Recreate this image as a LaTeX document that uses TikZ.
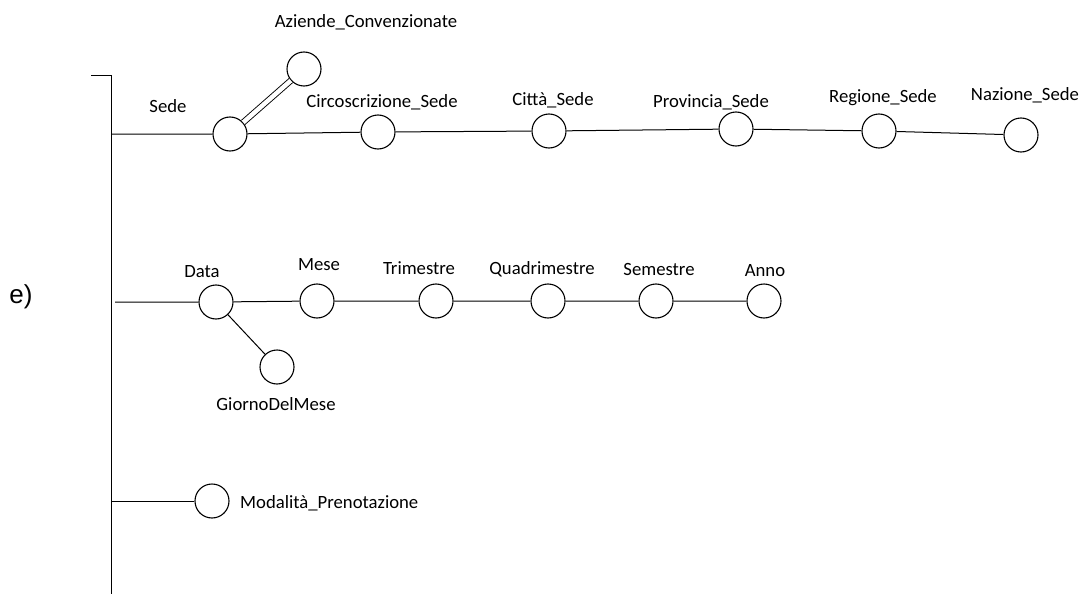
\documentclass[tikz,border=0pt]{standalone}
\usepackage{fontspec}
\setmainfont{Carlito}
\newfontfamily\labelfont{Liberation Sans}
\begin{document}
\begin{tikzpicture}[x=1pt,y=-1pt,
  attr/.style={circle,draw,line width=1.1pt,minimum size=34pt,inner sep=0pt},
  lbl/.style={font=\fontsize{18.7}{21}\selectfont,inner sep=0pt},
  edge/.style={line width=1pt}]
\useasboundingbox (0,0) rectangle (1085,594);

% main axis with its top tick
\coordinate (top) at (111,76);
\coordinate (topL) at (91,76);
\coordinate (bot) at (111,594);
\draw[edge] (topL) -- (top) -- (bot);
\node[font=\fontsize{26}{30}\labelfont,inner sep=0pt] (elbl) at (21,297) {e)};

% location hierarchy
\coordinate (r1) at (111,134);
\node[attr] (sede) at (230,134) {};
\node[attr] (aziende) at (304,69) {};
\node[attr] (circ) at (378,132) {};
\node[attr] (citta) at (549,131) {};
\node[attr] (prov) at (736,129) {};
\node[attr] (reg) at (879,131) {};
\node[attr] (naz) at (1021,135) {};
\node[lbl] (lsede) at (168,106) {Sede};
\node[lbl] (laz) at (366,22) {Aziende\_Convenzionate};
\node[lbl] (lcirc) at (382,102) {Circoscrizione\_Sede};
\node[lbl] (lcitta) at (553,100) {Città\_Sede};
\node[lbl] (lprov) at (711,102) {Provincia\_Sede};
\node[lbl] (lreg) at (883,98) {Regione\_Sede};
\node[lbl] (lnaz) at (1025,95) {Nazione\_Sede};
\draw[edge] (r1) -- (sede) -- (circ) -- (citta) -- (prov) -- (reg) -- (naz);
\draw[line width=0.9pt,double,double distance=4.5pt] (sede) -- (aziende);

% time hierarchy
\coordinate (r2) at (115,302);
\node[attr] (data) at (216,302) {};
\node[attr] (mese) at (317,301) {};
\node[attr] (trim) at (436,301) {};
\node[attr] (quad) at (548,301) {};
\node[attr] (sem) at (656,301) {};
\node[attr] (anno) at (764,301) {};
\node[attr] (giorno) at (277,367) {};
\node[lbl] (ldata) at (202,272) {Data};
\node[lbl] (lmese) at (319,265) {Mese};
\node[lbl] (ltrim) at (419,268) {Trimestre};
\node[lbl] (lquad) at (542,269) {Quadrimestre};
\node[lbl] (lsem) at (659,269) {Semestre};
\node[lbl] (lanno) at (765,271) {Anno};
\node[lbl] (lgiorno) at (276,404) {GiornoDelMese};
\draw[edge] (r2) -- (data) -- (mese) -- (trim) -- (quad) -- (sem) -- (anno);
\draw[edge] (data) -- (giorno);

% booking mode
\coordinate (r3) at (111,501);
\node[attr] (mod) at (212,501) {};
\node[lbl,anchor=west] (lmod) at (240,503) {Modalità\_Prenotazione};
\draw[edge] (r3) -- (mod);
\end{tikzpicture}
\end{document}
